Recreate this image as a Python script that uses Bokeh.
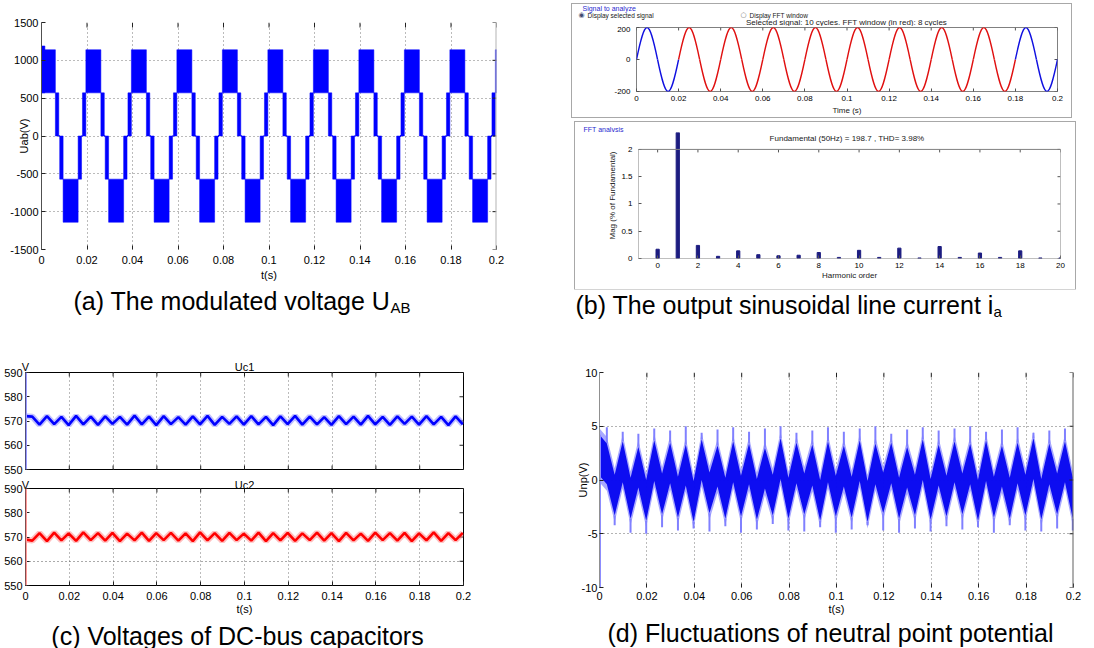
import math
import numpy as np
from bokeh.plotting import figure
from bokeh.layouts import row, column
from bokeh.models import FixedTicker, LinearAxis, Label, BoxAnnotation, Span
from bokeh.embed import file_html
from bokeh.resources import INLINE

FONT = "Liberation Sans"

# ---------------- shared time axis ----------------
t_ticks = [0, 0.02, 0.04, 0.06, 0.08, 0.1, 0.12, 0.14, 0.16, 0.18, 0.2]
t_tick_labels = ["0", "0.02", "0.04", "0.06", "0.08", "0.1", "0.12", "0.14", "0.16", "0.18", "0.2"]

# ---------------- (a) modulated voltage Uab ----------------
uab_ticks = [-1500, -1000, -500, 0, 500, 1000, 1500]
uab_tick_labels = ["-1500", "-1000", "-500", "0", "500", "1000", "1500"]
uab_levels = [570, 1140]
uab_band_centers = [0.0028, 0.0128, 0.0228, 0.0328, 0.0428, 0.0528, 0.0628, 0.0728, 0.0828, 0.0928,
                    0.1028, 0.1128, 0.1228, 0.1328, 0.1428, 0.1528, 0.1628, 0.1728, 0.1828, 0.1928, 0.2028]
uab_band_signs = [1, -1, 1, -1, 1, -1, 1, -1, 1, -1, 1, -1, 1, -1, 1, -1, 1, -1, 1, -1, 1]
uab_band_half_width = 0.0033
uab_step_width = 0.0015
uab_initial_peak = 1190
uab_initial_duration = 0.0015

# ---------------- (b) line current and FFT ----------------
ia_ticks = [-200, 0, 200]
ia_tick_labels = ["-200", "0", "200"]
ia_zero_cross = [0.0, 0.01, 0.02, 0.03, 0.04, 0.05, 0.06, 0.07, 0.08, 0.09, 0.1,
                 0.11, 0.12, 0.13, 0.14, 0.15, 0.16, 0.17, 0.18, 0.19, 0.2]
ia_peak = [200, -200, 200, -200, 200, -200, 200, -200, 200, -200,
           200, -200, 200, -200, 200, -200, 200, -200, 200, -200]
fft_window = [0.02, 0.18]

fft_order = [0, 1, 2, 3, 4, 5, 6, 7, 8, 9, 10, 11, 12, 13, 14, 15, 16, 17, 18, 19, 20]
fft_mag = [0.17, 2.35, 0.24, 0.04, 0.14, 0.07, 0.05, 0.06, 0.11, 0.02, 0.15,
           0.02, 0.19, 0.01, 0.22, 0.02, 0.10, 0.02, 0.14, 0.01, 0.01]
fft_xticks = [0, 2, 4, 6, 8, 10, 12, 14, 16, 18, 20]
fft_xtick_labels = ["0", "2", "4", "6", "8", "10", "12", "14", "16", "18", "20"]
fft_yticks = [0, 0.5, 1, 1.5, 2]
fft_ytick_labels = ["0", "0.5", "1", "1.5", "2"]
fft_frame_top = 2

# ---------------- (c) capacitor voltages, (d) neutral point ----------------
extreme_t = [0.0, 0.0031, 0.0064, 0.0098, 0.0131, 0.0164, 0.0197, 0.0231, 0.0264, 0.0298,
             0.0331, 0.0364, 0.0397, 0.0431, 0.0464, 0.0498, 0.0531, 0.0564, 0.0597, 0.0631,
             0.0664, 0.0698, 0.0731, 0.0764, 0.0797, 0.0831, 0.0864, 0.0898, 0.0931, 0.0964,
             0.0997, 0.1031, 0.1064, 0.1098, 0.1131, 0.1164, 0.1197, 0.1231, 0.1264, 0.1298,
             0.1331, 0.1364, 0.1397, 0.1431, 0.1464, 0.1498, 0.1531, 0.1564, 0.1597, 0.1631,
             0.1664, 0.1698, 0.1731, 0.1764, 0.1797, 0.1831, 0.1864, 0.1898, 0.1931, 0.1964,
             0.1997]
uc_ticks = [550, 560, 570, 580, 590]
uc_tick_labels = ["550", "560", "570", "580", "590"]
uc_title_ticks = [0, 0.1]
uc1_title_labels = ["V", "Uc1"]
uc2_title_labels = ["V", "Uc2"]
uc1 = [572.0, 571.8, 568.5, 572.0, 568.7, 571.7, 568.3, 572.1, 568.6, 571.8,
       568.4, 571.9, 568.8, 571.7, 568.5, 572.2, 568.6, 571.8, 568.3, 572.0,
       568.7, 571.6, 568.5, 571.9, 568.6, 572.1, 568.4, 571.7, 568.8, 571.9,
       568.5, 572.0, 568.6, 571.7, 568.3, 571.9, 568.7, 572.1, 568.5, 571.8,
       568.6, 571.6, 568.4, 572.0, 568.7, 571.8, 568.5, 572.1, 568.6, 571.7,
       568.4, 571.9, 568.8, 571.8, 568.5, 572.0, 568.6, 571.7, 568.3, 571.9,
       568.6]
uc2 = [569.0, 568.5, 571.6, 568.3, 571.8, 568.6, 571.5, 568.4, 571.9, 568.7,
       571.6, 568.5, 571.7, 568.3, 571.4, 568.6, 571.8, 568.4, 571.6, 568.7,
       571.7, 568.5, 571.5, 568.3, 571.9, 568.6, 571.6, 568.4, 571.7, 568.7,
       571.4, 568.5, 571.8, 568.3, 571.6, 568.6, 571.7, 568.4, 571.5, 568.7,
       571.8, 568.5, 571.6, 568.3, 571.7, 568.6, 571.4, 568.4, 571.8, 568.7,
       571.6, 568.5, 571.7, 568.3, 571.5, 568.6, 571.9, 568.4, 571.6, 568.7,
       571.7]
uc2_grid_level = [560]

unp_ticks = [-10, -5, 0, 5, 10]
unp_tick_labels = ["-10", "-5", "0", "5", "10"]
unp_edge = [4.2, 3.4, -3.3, 3.6, -3.6, 3.1, -3.8, 3.7, -3.2, 3.5,
            -3.5, 3.3, -3.9, 3.8, -3.1, 3.2, -3.6, 3.6, -3.4, 3.4,
            -3.7, 3.0, -3.3, 3.9, -3.6, 3.5, -3.2, 3.3, -3.8, 3.6,
            -3.4, 3.2, -3.5, 3.7, -3.9, 3.4, -3.1, 3.5, -3.6, 3.1,
            -3.3, 3.8, -3.7, 3.3, -3.4, 3.6, -3.2, 3.4, -3.8, 3.7,
            -3.5, 3.2, -3.6, 3.5, -3.3, 3.9, -3.7, 3.4, -3.2, 3.6,
            -3.6]
unp_spike = [4.2, 4.9, -4.2, 4.5, -4.9, 4.3, -5.0, 4.8, -4.4, 4.6,
             -4.7, 5.0, -4.5, 4.4, -4.8, 4.7, -4.3, 4.9, -4.9, 4.5,
             -4.6, 4.8, -4.1, 5.0, -4.7, 4.4, -4.8, 4.6, -4.4, 4.9,
             -4.9, 4.5, -4.6, 4.8, -4.2, 5.0, -4.7, 4.3, -4.9, 4.7,
             -4.5, 4.9, -4.8, 4.6, -4.3, 4.8, -4.6, 5.0, -4.4, 4.5,
             -4.9, 4.7, -4.2, 4.9, -4.7, 4.4, -4.8, 4.6, -4.5, 4.8,
             -4.7]
unp_band_width = 3.8
unp_initial_low = -10


# ---------------- helpers ----------------
def no_align(p):
    try:
        p.frame_align = False
    except Exception:
        pass


def make_fig(w, h, left, right, top, bottom, xr, yr):
    p = figure(width=w, height=h, x_range=xr, y_range=yr, title=None,
               output_backend="svg", toolbar_location=None,
               min_border_left=left, min_border_right=right,
               min_border_top=top, min_border_bottom=bottom)
    p.background_fill_color = "white"
    p.border_fill_color = "white"
    p.outline_line_color = None
    p.xgrid.visible = False
    p.ygrid.visible = False
    p._frame_px = (w - left - right, h - top - bottom)
    no_align(p)
    return p


def strip(w, h):
    p = figure(width=w, height=h, x_range=(0, w), y_range=(0, h), title=None,
               x_axis_type=None, y_axis_type=None, output_backend="svg",
               toolbar_location=None, min_border=0)
    p.outline_line_color = None
    p.background_fill_color = "white"
    p.border_fill_color = "white"
    no_align(p)
    return p


def style_axis(ax, ticks, labels, size="11px", line_color=None,
               tick_color="#222222", standoff=3, tick_len=4):
    ax.ticker = FixedTicker(ticks=ticks)
    ax.minor_tick_line_color = None
    ax.major_tick_in = tick_len
    ax.major_tick_out = 0
    ax.major_tick_line_color = tick_color
    ax.axis_line_color = line_color
    ax.major_label_overrides = dict(zip(ticks, labels))
    ax.major_label_text_font = FONT
    ax.major_label_text_font_size = size
    ax.major_label_text_color = "black"
    ax.major_label_standoff = standoff


def set_axis_label(ax, text, size, standoff, color="black"):
    ax.axis_label = text
    ax.axis_label_text_font = FONT
    ax.axis_label_text_font_size = size
    ax.axis_label_text_font_style = "normal"
    ax.axis_label_text_color = color
    ax.axis_label_standoff = standoff


def tick_marks(p, positions, side, xr, yr, length=4, color="#222222"):
    fw, fh = p._frame_px
    pos = np.array(positions, dtype=float)
    if side in ("top", "bottom"):
        dy = length * (yr[1] - yr[0]) / fh
        y0 = yr[1] if side == "top" else yr[0]
        y1 = y0 - dy if side == "top" else y0 + dy
        p.segment(x0=pos, y0=0 * pos + y0, x1=pos, y1=0 * pos + y1, line_color=color, line_width=1)
    else:
        dx = length * (xr[1] - xr[0]) / fw
        x0 = xr[1] if side == "right" else xr[0]
        x1 = x0 - dx if side == "right" else x0 + dx
        p.segment(x0=0 * pos + x0, y0=pos, x1=0 * pos + x1, y1=pos, line_color=color, line_width=1)


def add_label(p, x, y, text, size, align="center", baseline="middle",
              color="black", font=FONT):
    p.add_layout(Label(x=x, y=y, text=text, text_font=font,
                       text_font_size=size, text_align=align, text_baseline=baseline,
                       text_color=color))


def dotted_grid(grid, ticks, color="#777777"):
    grid.visible = True
    grid.ticker = FixedTicker(ticks=ticks)
    grid.grid_line_color = color
    grid.grid_line_dash = "1 3"
    grid.grid_line_width = 1


# ---------------- (a) ----------------
a_xr, a_yr = (0, 0.2), (-1500, 1500)
pa = make_fig(560, 286, 41, 64, 22, 37, a_xr, a_yr)
style_axis(pa.xaxis[0], t_ticks, t_tick_labels, standoff=6)
set_axis_label(pa.xaxis[0], "t(s)", "11px", 2)
style_axis(pa.yaxis[0], uab_ticks, uab_tick_labels, line_color="#505050", standoff=3)
set_axis_label(pa.yaxis[0], "Uab(V)", "11px", -23)
dotted_grid(pa.xgrid, t_ticks)
dotted_grid(pa.ygrid, uab_ticks)
pa.add_layout(Span(location=a_xr[1], dimension="height", line_color="#b4b4b4", line_width=2))

c = np.array(uab_band_centers)
s = np.array(uab_band_signs)
lo, hi = uab_levels
hw, sw = uab_band_half_width, uab_step_width
q_left = np.concatenate([c - hw, c - hw - sw, c + hw, [0.0]])
q_right = np.concatenate([c + hw, c - hw, c + hw + sw, [uab_initial_duration]])
q_bottom = np.concatenate([s * lo, 0 * s, 0 * s, [lo]])
q_top = np.concatenate([s * hi, s * lo, s * lo, [uab_initial_peak]])
pa.quad(left=q_left, right=q_right, bottom=q_bottom, top=q_top,
        fill_color="#0000ff", line_color="#0000ff", line_width=0.5)
zx0 = (c + hw + sw)[:-1]
zx1 = (c - hw - sw)[1:]
pa.segment(x0=zx0, y0=0 * zx0, x1=zx1, y1=0 * zx1, line_color="#0000ff", line_width=2)
tick_marks(pa, t_ticks, "top", a_xr, a_yr, length=5)
tick_marks(pa, uab_ticks, "right", a_xr, a_yr)

cap_a = strip(560, 34)
add_label(cap_a, 73, 20, "(a) The modulated voltage U", "25px", align="left")
add_label(cap_a, 390, 13, "AB", "15px", align="left")

# ---------------- (c) Uc1 / Uc2 ----------------
c_xr, c_yr = (0, 0.2), (550, 590)


def cap_plot(h, top, bottom, vals, color, fuzz, edge, title_labels, title_standoff, with_x_labels):
    p = make_fig(560, h, 25, 97, top, bottom, c_xr, c_yr)
    p.outline_line_color = "black"
    if with_x_labels:
        style_axis(p.xaxis[0], t_ticks, t_tick_labels, standoff=6)
        set_axis_label(p.xaxis[0], "t(s)", "11px", 0)
    else:
        p.xaxis[0].visible = False
        tick_marks(p, t_ticks, "bottom", c_xr, c_yr)
    style_axis(p.yaxis[0], uc_ticks, uc_tick_labels, standoff=3)
    top_ax = LinearAxis()
    style_axis(top_ax, uc_title_ticks, title_labels, standoff=title_standoff)
    top_ax.major_tick_line_color = None
    p.add_layout(top_ax, "above")
    tick_marks(p, t_ticks, "top", c_xr, c_yr)
    tick_marks(p, uc_ticks, "right", c_xr, c_yr)
    dotted_grid(p.xgrid, t_ticks)
    p.line(extreme_t, vals, line_color=fuzz, line_width=6, line_alpha=0.45)
    p.line(extreme_t, vals, line_color=color, line_width=2.6)
    p.add_layout(Span(location=c_xr[0], dimension="height", line_color=edge, line_width=3))
    return p


pc1 = cap_plot(155, 52, 6, uc1, "#0000ff", "#7070ff", "#9a9aff", uc1_title_labels, 0, False)
pc2 = cap_plot(142, 13, 32, uc2, "#ff0000", "#ff7070", "#ff9a9a", uc2_title_labels, -2, True)
dotted_grid(pc2.ygrid, uc2_grid_level, color="#555555")

cap_c = strip(560, 31)
add_label(cap_c, 237, 13, "(c) Voltages of DC-bus capacitors", "25px")

# ---------------- (b) signal to analyze ----------------
strip_b1 = strip(499, 22)
add_label(strip_b1, 10, 18, "Signal to analyze", "7px", align="left", color="#2a2ad0")
add_label(strip_b1, 9, 11.5, "\u25c9", "7px", color="#404a70", font="DejaVu Sans")
add_label(strip_b1, 15, 11.5, "Display selected signal", "6.5px", align="left", color="#202020")
add_label(strip_b1, 171, 11.5, "\u25cb", "7px", color="#707070", font="DejaVu Sans")
add_label(strip_b1, 177, 11.5, "Display FFT window", "6.5px", align="left", color="#202020")
add_label(strip_b1, 274, 4.5, "Selected signal: 10 cycles. FFT window (in red): 8 cycles", "8px",
          color="#202020")

b1_xr, b1_yr = (0, 0.2), (-200, 200)
pb1 = make_fig(499, 91, 64, 14, 1, 25, b1_xr, b1_yr)
pb1.outline_line_color = "#808080"
style_axis(pb1.xaxis[0], t_ticks, t_tick_labels, size="8px", standoff=4, tick_len=3, tick_color="#555555")
set_axis_label(pb1.xaxis[0], "Time (s)", "8px", 2, color="#202020")
style_axis(pb1.yaxis[0], ia_ticks, ia_tick_labels, size="8px", standoff=6, tick_len=3, tick_color="#555555")
tick_marks(pb1, t_ticks, "top", b1_xr, b1_yr, length=3, color="#555555")
tick_marks(pb1, ia_ticks, "right", b1_xr, b1_yr, length=3, color="#555555")

zc = np.array(ia_zero_cross)
pk = np.array(ia_peak, dtype=float)
t0 = zc[:-1]
t1 = zc[1:]
kk = 4.0 / (3.0 * math.pi)
in_win = (t0 >= fft_window[0] - 1e-9) & (t1 <= fft_window[1] + 1e-9)
seg_colors = ["#e01010" if w else "#1010e0" for w in in_win]
pb1.bezier(x0=t0, y0=0 * pk, x1=t1, y1=0 * pk,
           cx0=t0 + kk * (t1 - t0), cy0=pk * 4.0 / 3.0,
           cx1=t1 - kk * (t1 - t0), cy1=pk * 4.0 / 3.0,
           line_color=seg_colors, line_width=1.4)

group1 = column(strip_b1, pb1, margin=(4, 23, 2, 12),
                styles={"outline": "1px solid #a8a8a8"})

# ---------------- (b) FFT analysis ----------------
strip_b2 = strip(500, 10)
add_label(strip_b2, 8, 5, "FFT analysis", "7px", align="left", color="#2a2ad0")

b2_xr, b2_yr = (-0.95, 20), (0, 2.31)
pb2 = make_fig(500, 157, 63, 15, 0, 31, b2_xr, b2_yr)
style_axis(pb2.xaxis[0], fft_xticks, fft_xtick_labels, size="8px", standoff=4, tick_len=3, tick_color="#555555")
set_axis_label(pb2.xaxis[0], "Harmonic order", "8px", 0, color="#202020")
style_axis(pb2.yaxis[0], fft_yticks, fft_ytick_labels, size="8px", standoff=6, tick_len=3, tick_color="#555555")
set_axis_label(pb2.yaxis[0], "Mag (% of Fundamental)", "8px", 1, color="#202020")
tick_marks(pb2, fft_yticks, "right", b2_xr, b2_yr, length=3, color="#555555")
fx = np.array(fft_xticks, dtype=float)
pb2.segment(x0=fx, y0=0 * fx + fft_frame_top, x1=fx,
            y1=0 * fx + fft_frame_top - 3 * (b2_yr[1] - b2_yr[0]) / pb2._frame_px[1],
            line_color="#555555", line_width=1)
pb2.add_layout(BoxAnnotation(left=b2_xr[0], right=b2_xr[1], bottom=0, top=fft_frame_top,
                             fill_color=None, fill_alpha=0, line_color="#808080",
                             line_alpha=1, line_width=1))
pb2.vbar(x=fft_order, top=fft_mag, bottom=0, width=0.16, fill_color="#1c1c80", line_color="#1c1c80")
add_label(pb2, 9.4, 2.2, "Fundamental (50Hz) = 198.7 , THD= 3.98%", "8px", color="#202020")

group2 = column(strip_b2, pb2, margin=(3, 19, 0, 15),
                styles={"outline": "1px solid #a8a8a8"})

cap_b = strip(534, 30)
add_label(cap_b, 15, 15, "(b) The output sinusoidal line current i", "25px", align="left")
add_label(cap_b, 433, 8, "a", "15px", align="left")

# ---------------- (d) neutral point potential ----------------
d_xr, d_yr = (0, 0.2), (-10, 10)
pdd = make_fig(534, 298, 39, 21, 53, 26, d_xr, d_yr)
style_axis(pdd.xaxis[0], t_ticks, t_tick_labels, standoff=4)
set_axis_label(pdd.xaxis[0], "t(s)", "11px", 0)
style_axis(pdd.yaxis[0], unp_ticks, unp_tick_labels, line_color="#909090", standoff=2)
set_axis_label(pdd.yaxis[0], "Unp(V)", "11px", -10)
dotted_grid(pdd.xgrid, t_ticks)
dotted_grid(pdd.ygrid, [-5, 0, 5], color="#666666")
pdd.add_layout(Span(location=d_xr[1], dimension="height", line_color="#606060", line_width=2))

et = np.array(extreme_t)
ed = np.array(unp_edge)
sp = np.array(unp_spike)
upper = np.where(ed > 0, ed, ed + unp_band_width)
lower = np.where(ed > 0, ed - unp_band_width, ed)
pdd.varea(x=et, y1=lower - 0.6, y2=upper + 0.6, fill_color="#8c8cff", fill_alpha=0.75)
pdd.segment(x0=et[1:], y0=ed[1:], x1=et[1:], y1=sp[1:], line_color="#8080ff", line_width=2)
pdd.varea(x=et, y1=lower, y2=upper, fill_color="#0000f0", fill_alpha=0.92)
pdd.segment(x0=[extreme_t[0]], y0=[unp_initial_low], x1=[extreme_t[0]], y1=[unp_edge[0]],
            line_color="#8c8cff", line_width=3)
tick_marks(pdd, t_ticks, "top", d_xr, d_yr, length=5)
tick_marks(pdd, unp_ticks, "right", d_xr, d_yr)

cap_d = strip(534, 31)
add_label(cap_d, 270, 16, "(d) Fluctuations of neutral point potential", "25px")

# ---------------- layout ----------------
left_col = column(pa, cap_a, pc1, pc2, cap_c)
right_col = column(group1, group2, cap_b, pdd, cap_d)
root = row(left_col, right_col)

open("out.html", "w").write(file_html(root, INLINE))
